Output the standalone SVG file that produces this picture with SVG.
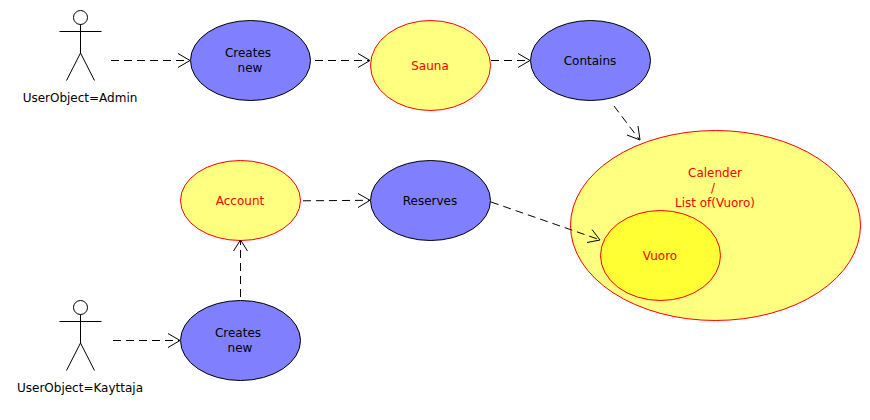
<svg xmlns="http://www.w3.org/2000/svg" width="870" height="420" viewBox="0 0 870 420">
<style>
text{font-family:"DejaVu Sans",sans-serif;font-size:12px;text-anchor:middle}
.k{fill:#000}
.r{fill:#f00}
.b{fill:#8080ff;stroke:#000}
.y{fill:#ffff80;stroke:#f00}
.v{fill:#ffff33;stroke:#f00}
.a{fill:none;stroke:#000}
.c{fill:none;stroke:#000;stroke-dasharray:8 5}
.h{fill:none;stroke:#000}
</style>
<rect width="870" height="420" fill="#fff"/>
<g id="admin">
<circle class="a" cx="80.500" cy="17.500" r="7"/>
<path class="a" d="M80.500 24.500V53M59.500 31.500H101.500M80.500 53L66.500 80.500M80.500 53L94.500 80.500"/>
<text class="k" x="80" y="102">UserObject=Admin</text>
</g>
<g id="creates1"><ellipse class="b" cx="250.500" cy="60.500" rx="60" ry="40"/><text class="k" x="248" y="57">Creates</text><text class="k" x="250" y="72">new</text></g>
<g id="sauna"><ellipse class="y" cx="430.500" cy="65.500" rx="60" ry="45"/><text class="r" x="430" y="70">Sauna</text></g>
<g id="contains"><ellipse class="b" cx="590.500" cy="60.500" rx="60" ry="40"/><text class="k" x="590" y="65">Contains</text></g>
<g id="calender"><ellipse class="y" cx="715.500" cy="225.500" rx="145" ry="95"/><text class="r" x="715" y="177">Calender</text><text class="r" x="713" y="192">/</text><text class="r" x="715" y="207">List of(Vuoro)</text></g>
<g id="vuoro"><ellipse class="v" cx="660.500" cy="255.500" rx="60" ry="45"/><text class="r" x="660" y="260">Vuoro</text></g>
<g id="account"><ellipse class="y" cx="240.500" cy="200.500" rx="60" ry="40"/><text class="r" x="240" y="205">Account</text></g>
<g id="reserves"><ellipse class="b" cx="430.500" cy="200.500" rx="60" ry="40"/><text class="k" x="430" y="205">Reserves</text></g>
<g id="kayttaja">
<circle class="a" cx="80.500" cy="307.500" r="7"/>
<path class="a" d="M80.500 314.500V343M59.500 321.500H101.500M80.500 343L66.500 370.500M80.500 343L94.500 370.500"/>
<text class="k" x="80" y="392">UserObject=Kayttaja</text>
</g>
<g id="creates2"><ellipse class="b" cx="240.500" cy="340.500" rx="60" ry="40"/><text class="k" x="238" y="337">Creates</text><text class="k" x="240" y="352">new</text></g>
<g id="connectors">
<path class="c" d="M111 60.500H189"/><path class="h" d="M178 53.500L190 60.500L178 67.500"/>
<path class="c" d="M315 60.500H369"/><path class="h" d="M358 53.500L370 60.500L358 67.500"/>
<path class="c" d="M491 60.500H529"/><path class="h" d="M518 53.500L530 60.500L518 67.500"/>
<path class="c" d="M614 106L639 139"/><path class="h" d="M627 135L640 140L638 126"/>
<path class="c" d="M303 200.800L369 200.300"/><path class="h" d="M358 193.500L370 200.300L358 207.500"/>
<path class="c" d="M491 202L599 239.500"/><path class="h" d="M587 242.500L600 240L592 229.500"/>
<path class="c" d="M240.500 297V241"/><path class="h" d="M233.500 251L240.500 240L247.500 251"/>
<path class="c" d="M113 340.500H179"/><path class="h" d="M168 333.500L180 340.500L168 347.500"/>
</g>
</svg>
